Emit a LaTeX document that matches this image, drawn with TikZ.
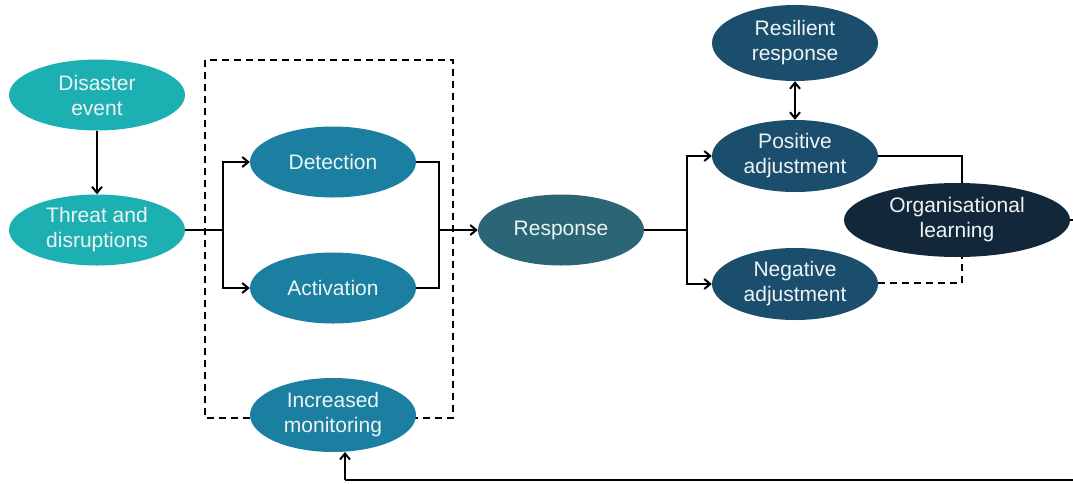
\documentclass[tikz,border=0pt]{standalone}
\usepackage{fontspec}
\setmainfont{Liberation Sans}
\usetikzlibrary{shapes.geometric,arrows.meta}
\definecolor{cteal}{HTML}{1DB0B2}
\definecolor{cblue}{HTML}{1A7FA1}
\definecolor{cresp}{HTML}{2A6676}
\definecolor{cadj}{HTML}{1B4E6D}
\definecolor{cnavy}{HTML}{13273B}
\definecolor{ctext}{HTML}{EEF4F4}
\tikzset{
  ell/.style={ellipse, minimum width=166pt, minimum height=71pt, inner sep=0pt,
    text=ctext, font=\fontsize{21}{25}\selectfont, align=center},
  conn/.style={line width=2pt, black},
  tip/.style={},
  arr/.style={conn, -{Straight Barb[length=6pt,width=10pt]}},
  dbox/.style={line width=2pt, dash pattern=on 7pt off 5pt},
}
\begin{document}
\begin{tikzpicture}[x=1pt,y=-1pt]
\useasboundingbox (0,0) rectangle (1073,483);
\fill[white] (0,0) rectangle (1073,483);
% dashed box
\draw[dbox] (205,60) rectangle (453,418);
% nodes
\node[ell, fill=cteal, minimum width=176pt] (dis) at (97,95) {Disaster\\event};
\node[ell, fill=cteal, minimum width=176pt] (thr) at (97,230) {Threat and\\disruptions};
\node[ell, fill=cblue] (det) at (333,162) {Detection};
\node[ell, fill=cblue] (act) at (333,288) {Activation};
\node[ell, fill=cblue, minimum height=74pt] (mon) at (333,415) {Increased\\monitoring};
\node[ell, fill=cresp] (resp) at (561,230) {Response};
\node[ell, fill=cadj, minimum height=76pt] (res) at (795,43) {Resilient\\response};
\node[ell, fill=cadj, minimum height=72pt] (pos) at (795,156) {Positive\\adjustment};
\node[ell, fill=cadj, minimum height=72pt] (neg) at (795,284) {Negative\\adjustment};
\node[ell, fill=cnavy, minimum width=226pt, minimum height=74pt] (org) at (957,220) {Organisational\\learning};
% coordinates
\coordinate (s1) at (223,230);
\coordinate (j1) at (439,230);
\coordinate (s2) at (687,230);
\coordinate (j2) at (962,156);
\coordinate (j3) at (962,283);
\coordinate (r1) at (1075,220);
\coordinate (r2) at (1075,480);
\coordinate (b1) at (345,480);
\coordinate (mb) at (345,452);
% connectors
\draw[arr] (dis) -- (thr);
\draw[conn] (thr.east) -- (s1);
\draw[arr] (s1) |- (det.west);
\draw[arr] (s1) |- (act.west);
\draw[conn] (det.east) -| (j1);
\draw[conn] (act.east) -| (j1);
\draw[arr] (j1) -- (resp.west);
\draw[conn] (resp.east) -- (s2);
\draw[arr] (s2) |- (pos.west);
\draw[arr] (s2) |- (neg.west);
\draw[conn, {Straight Barb[length=6pt,width=10pt]}-{Straight Barb[length=6pt,width=10pt]}] (res) -- (pos);
\draw[conn] (pos.east) -| (org.north -| j2);
\draw[conn, dash pattern=on 7pt off 5pt] (neg.east |- j3) -| (org.south -| j3);
\draw[conn] (org.east) -- (r1) -- (r2) -- (b1);
\draw[arr] (b1) -- (mb);
\end{tikzpicture}
\end{document}
